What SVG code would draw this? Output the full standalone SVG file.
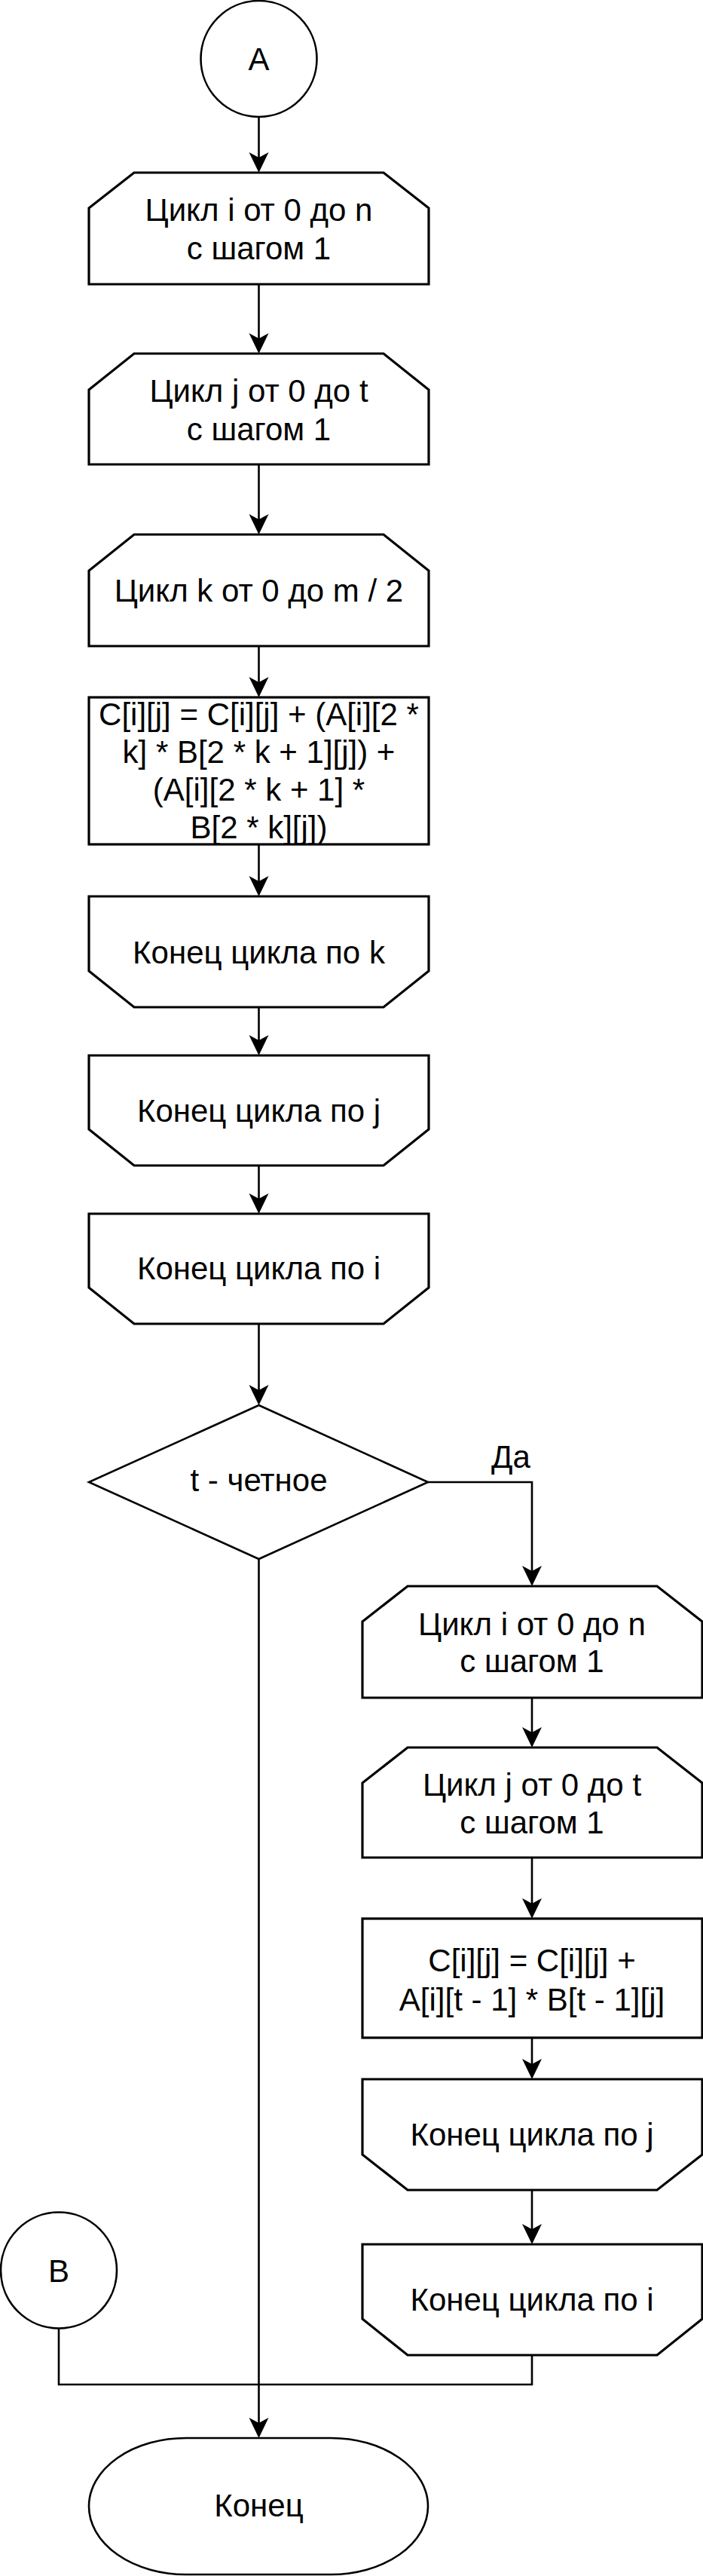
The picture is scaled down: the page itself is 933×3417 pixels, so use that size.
<svg xmlns="http://www.w3.org/2000/svg" width="933" height="3417" viewBox="0 0 933 3417">
<style>
.s{fill:#fff;stroke:#000;stroke-width:3.2;stroke-linejoin:miter}
.c{fill:#fff;stroke:#000;stroke-width:2.6}
.e{fill:none;stroke:#000;stroke-width:2.6}
.t{font-family:"Liberation Sans",Arial,sans-serif;font-size:42px;fill:#000;text-anchor:middle}
</style>
<defs>
<marker id="ah" markerUnits="userSpaceOnUse" markerWidth="30" markerHeight="30" viewBox="-28 -15 30 30" refX="-5" refY="0" orient="auto">
<path d="M0,0 L-27,-13 L-20,0 L-27,13 Z" fill="#000" stroke="none"/>
</marker>
</defs>
<rect width="933" height="3417" fill="#fff"/>
<g id="connectors">
<path class="e" d="M343.5,155 V224" marker-end="url(#ah)"/>
<path class="e" d="M343.5,377 V464" marker-end="url(#ah)"/>
<path class="e" d="M343.5,616 V704" marker-end="url(#ah)"/>
<path class="e" d="M343.5,857 V920" marker-end="url(#ah)"/>
<path class="e" d="M343.5,1120 V1184" marker-end="url(#ah)"/>
<path class="e" d="M343.5,1336 V1395" marker-end="url(#ah)"/>
<path class="e" d="M343.5,1546 V1605" marker-end="url(#ah)"/>
<path class="e" d="M343.5,1756 V1859" marker-end="url(#ah)"/>
<path class="e" d="M568,1966 H706 V2099" marker-end="url(#ah)"/>
<path class="e" d="M343.5,2068 V3229" marker-end="url(#ah)"/>
<path class="e" d="M706,2252 V2313" marker-end="url(#ah)"/>
<path class="e" d="M706,2464 V2540" marker-end="url(#ah)"/>
<path class="e" d="M706,2703 V2753" marker-end="url(#ah)"/>
<path class="e" d="M706,2905 V2972" marker-end="url(#ah)"/>
<path class="e" d="M706,3124 V3163 H78 V3089"/>
<text class="t" x="678" y="1947">Да</text>
</g>
<g id="startA">
<circle class="c" cx="343.5" cy="78" r="77"/>
<text class="t" x="343.5" y="93">A</text>
</g>
<g id="loop1">
<path class="s" d="M178,229 H509 L569,276 V377 H118 V276 Z"/>
<text class="t" x="343.5" y="293">Цикл i от 0 до n</text>
<text class="t" x="343.5" y="344">с шагом 1</text>
</g>
<g id="loop2">
<path class="s" d="M178,469 H509 L569,517 V616 H118 V517 Z"/>
<text class="t" x="343.5" y="533">Цикл j от 0 до t</text>
<text class="t" x="343.5" y="584">с шагом 1</text>
</g>
<g id="loop3">
<path class="s" d="M178,709 H509 L569,757 V857 H118 V757 Z"/>
<text class="t" x="343.5" y="798">Цикл k от 0 до m / 2</text>
</g>
<g id="process1">
<rect class="s" x="118" y="925" width="451" height="195"/>
<text class="t" x="343.5" y="962">C[i][j] = C[i][j] + (A[i][2 *</text>
<text class="t" x="343.5" y="1012">k] * B[2 * k + 1][j]) +</text>
<text class="t" x="343.5" y="1062">(A[i][2 * k + 1] *</text>
<text class="t" x="343.5" y="1112">B[2 * k][j])</text>
</g>
<g id="endK">
<path class="s" d="M118,1189 H569 V1288 L509,1336 H178 L118,1288 Z"/>
<text class="t" x="343.5" y="1278">Конец цикла по k</text>
</g>
<g id="endJ">
<path class="s" d="M118,1400 H569 V1498 L509,1546 H178 L118,1498 Z"/>
<text class="t" x="343.5" y="1488">Конец цикла по j</text>
</g>
<g id="endI">
<path class="s" d="M118,1610 H569 V1708 L509,1756 H178 L118,1708 Z"/>
<text class="t" x="343.5" y="1697">Конец цикла по i</text>
</g>
<g id="decision">
<path class="c" d="M343.5,1864 L568,1966 L343.5,2068 L118,1966 Z"/>
<text class="t" x="343.5" y="1978">t - четное</text>
</g>
<g id="rloop1">
<path class="s" d="M541,2104 H872 L932,2151 V2252 H481 V2151 Z"/>
<text class="t" x="706" y="2169">Цикл i от 0 до n</text>
<text class="t" x="706" y="2218">с шагом 1</text>
</g>
<g id="rloop2">
<path class="s" d="M541,2318 H872 L932,2365 V2464 H481 V2365 Z"/>
<text class="t" x="706" y="2382">Цикл j от 0 до t</text>
<text class="t" x="706" y="2432">с шагом 1</text>
</g>
<g id="rprocess">
<rect class="s" x="481" y="2545" width="451" height="158"/>
<text class="t" x="706" y="2615">C[i][j] = C[i][j] +</text>
<text class="t" x="706" y="2667">A[i][t - 1] * B[t - 1][j]</text>
</g>
<g id="rendJ">
<path class="s" d="M481,2758 H932 V2858 L872,2905 H541 L481,2858 Z"/>
<text class="t" x="706" y="2846">Конец цикла по j</text>
</g>
<g id="rendI">
<path class="s" d="M481,2977 H932 V3076 L872,3124 H541 L481,3076 Z"/>
<text class="t" x="706" y="3065">Конец цикла по i</text>
</g>
<g id="connB">
<circle class="c" cx="78" cy="3011.5" r="77"/>
<text class="t" x="78" y="3026.5">B</text>
</g>
<g id="end">
<path class="c" d="M247,3234 H439 A129,90.5 0 0 1 439,3415 H247 A129,90.5 0 0 1 247,3234 Z"/>
<text class="t" x="343.5" y="3338">Конец</text>
</g>
</svg>
